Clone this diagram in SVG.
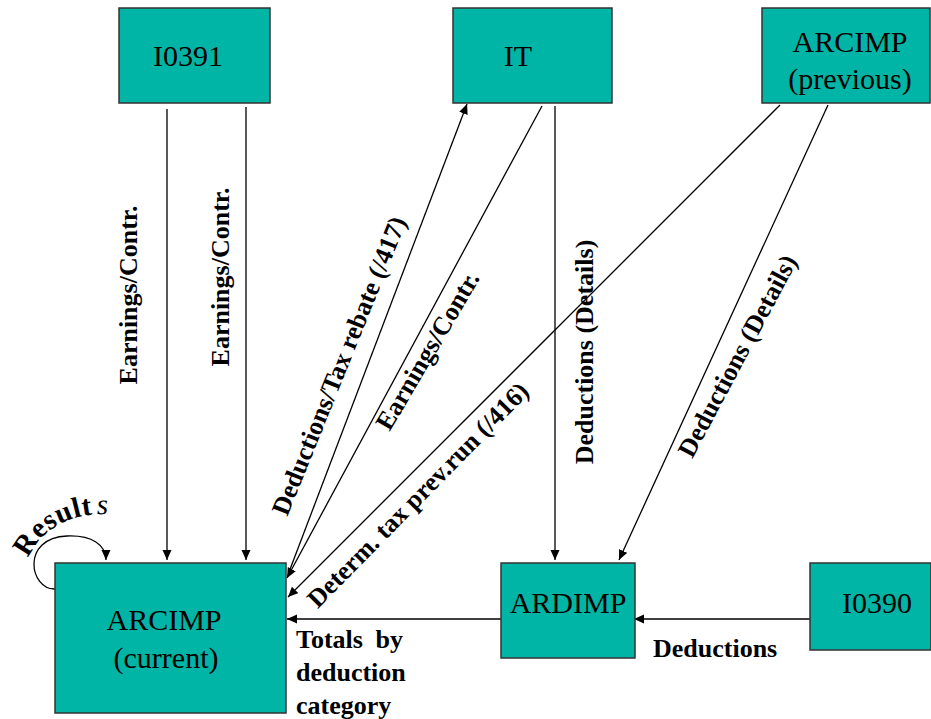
<svg xmlns="http://www.w3.org/2000/svg" width="931" height="719" viewBox="0 0 931 719">
<style>
.box{fill:#00B5A5;stroke:#333;stroke-width:1.5}
.nt{font-family:"Liberation Serif","Times New Roman",serif;font-size:30px;fill:#000;text-anchor:middle}
.lb{font-family:"Liberation Serif","Times New Roman",serif;font-size:26px;font-weight:bold;fill:#000}
.c{fill:none;stroke:#000;stroke-width:1.3;marker-end:url(#ah)}
</style>
<defs>
<marker id="ah" markerUnits="userSpaceOnUse" markerWidth="11" markerHeight="10" refX="10" refY="4.5" orient="auto" viewBox="0 0 11 10">
<path d="M0,0 L10,4.5 L0,9 z" fill="#000"/>
</marker>
<path id="rp" d="M28,558 Q48,516 102,514 L135,513"/>
</defs>
<g id="connectors">
<line class="c" x1="167" y1="109" x2="167" y2="560"/>
<line class="c" x1="246" y1="107" x2="246" y2="560"/>
<line class="c" x1="289" y1="572" x2="467" y2="104"/>
<line class="c" x1="542" y1="106" x2="287" y2="578"/>
<line class="c" x1="780" y1="105" x2="288" y2="597"/>
<line class="c" x1="505" y1="619" x2="287" y2="619"/>
<line class="c" x1="555" y1="106" x2="555" y2="560"/>
<line class="c" x1="828" y1="105" x2="619" y2="560"/>
<line class="c" x1="810" y1="619" x2="634" y2="619"/>
<path class="c" d="M55,589 C30,590 20,538 67,536 C92,535 106,545 106,560"/>
</g>
<g id="labels">
<text class="lb" text-anchor="middle" transform="translate(137,295) rotate(-90)">Earnings/Contr.</text>
<text class="lb" text-anchor="middle" transform="translate(229,277) rotate(-90)">Earnings/Contr.</text>
<text class="lb" text-anchor="middle" transform="translate(347,369) rotate(-68)">Deductions/Tax rebate (/417)</text>
<text class="lb" text-anchor="middle" transform="translate(435,355) rotate(-59.5)">Earnings/Contr.</text>
<text class="lb" text-anchor="middle" transform="translate(424,501) rotate(-45.5)">Determ. tax prev.run (/416)</text>
<text class="lb" text-anchor="middle" transform="translate(593,352) rotate(-90)">Deductions (Details)</text>
<text class="lb" text-anchor="middle" transform="translate(745,360) rotate(-62)">Deductions (Details)</text>
<text class="lb" x="296" y="648" word-spacing="6">Totals by</text>
<text class="lb" x="296" y="681">deduction</text>
<text class="lb" x="296" y="714">category</text>
<text class="lb" x="653" y="657">Deductions</text>
<text font-family="'Liberation Serif','Times New Roman',serif" font-size="29" font-weight="bold" letter-spacing="0.5" fill="#000"><textPath href="#rp">Result<tspan dx="4" font-style="italic" font-weight="normal">s</tspan></textPath></text>
</g>
<g id="I0391"><rect class="box" x="119" y="8" width="151" height="95"/><text class="nt" x="188" y="66">I0391</text></g>
<g id="IT"><rect class="box" x="453" y="8" width="159" height="95"/><text class="nt" x="518" y="66">IT</text></g>
<g id="ARCIMP_previous"><rect class="box" x="762" y="8" width="168" height="95"/><text class="nt" x="850" y="52">ARCIMP</text><text class="nt" x="850" y="89">(previous)</text></g>
<g id="ARCIMP_current"><rect class="box" x="55" y="563" width="231" height="150"/><text class="nt" x="164" y="630">ARCIMP</text><text class="nt" x="166" y="668">(current)</text></g>
<g id="ARDIMP"><rect class="box" x="501" y="563" width="134" height="95"/><text class="nt" x="568" y="613">ARDIMP</text></g>
<g id="I0390"><rect class="box" x="810" y="563" width="121" height="87"/><text class="nt" x="877" y="613">I0390</text></g>
</svg>
